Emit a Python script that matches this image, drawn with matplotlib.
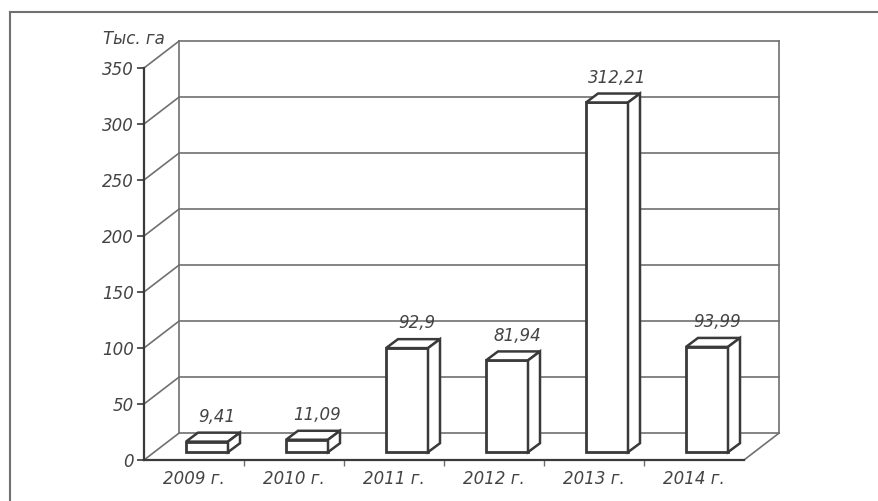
import matplotlib
matplotlib.use("Agg")
import matplotlib.pyplot as plt
from matplotlib.lines import Line2D

# Data
years = ["2009 г.", "2010 г.", "2011 г.", "2012 г.", "2013 г.", "2014 г."]
values = [9.41, 11.09, 92.9, 81.94, 312.21, 93.99]
yticks = [0, 50, 100, 150, 200, 250, 300, 350]
unit_label = "Тыс. га"

# Pseudo-3D geometry (data units)
wall_dx, wall_dy = 0.35, 24    # offset of back wall
bar_left, bar_w = 0.42, 0.42   # front face position inside category
bar_bottom = 7                 # front face lifted off the floor edge
depth_dx, depth_dy = 0.12, 8   # bar depth

line_col = "#3a3a3a"
grid_col = "#707070"
text_col = "#444444"
font = dict(family="DejaVu Sans", style="italic", color=text_col, fontsize=12)

W, H = 879, 501
fig = plt.figure(figsize=(W / 100, H / 100), dpi=100)
ax = fig.add_axes([144 / W, (H - 460) / H, 600 / W, 392 / H])
n = len(years)
ax.set_xlim(0, n)
ax.set_ylim(0, 350)
for s in ["top", "right"]:
    ax.spines[s].set_visible(False)
for s in ["left", "bottom"]:
    ax.spines[s].set_color(line_col)
    ax.spines[s].set_linewidth(1.6)

# y axis
ax.set_yticks(yticks)
ax.set_yticklabels([str(t) for t in yticks], **font)
ax.tick_params(axis="y", direction="out", length=5, width=1.2, color=line_col, pad=2)

# x axis: labels at centers, tick marks at boundaries
ax.set_xticks([i + 0.5 for i in range(n)])
ax.set_xticklabels(years, **font)
ax.set_xticks(range(1, n), minor=True)
ax.tick_params(axis="x", which="major", length=0, pad=7)
ax.tick_params(axis="x", which="minor", direction="out", length=4, width=1.0, color=grid_col)

# back wall, side wall diagonals, floor
gkw = dict(color=grid_col, lw=1.2, clip_on=False, zorder=1)
for t in yticks:
    ax.plot([wall_dx, n + wall_dx], [t + wall_dy, t + wall_dy], **gkw)
    ax.plot([0, wall_dx], [t, t + wall_dy], **gkw)
ax.plot([wall_dx, wall_dx], [wall_dy, 350 + wall_dy], **gkw)
ax.plot([n + wall_dx, n + wall_dx], [wall_dy, 350 + wall_dy], **gkw)
ax.plot([n, n + wall_dx], [0, wall_dy], **gkw)

# bars: front face via ax.bar, top and side via polygons
lefts = [i + bar_left for i in range(n)]
ax.bar(lefts, values, width=bar_w, bottom=bar_bottom, align="edge",
       facecolor="white", edgecolor=line_col, linewidth=2, zorder=3, clip_on=False)
for x0, v in zip(lefts, values):
    top = bar_bottom + v
    x1 = x0 + bar_w
    ax.fill([x0, x1, x1 + depth_dx, x0 + depth_dx],
            [top, top, top + depth_dy, top + depth_dy],
            facecolor="white", edgecolor=line_col, lw=1.8, zorder=3, clip_on=False)
    ax.fill([x1, x1 + depth_dx, x1 + depth_dx, x1],
            [bar_bottom, bar_bottom + depth_dy, top + depth_dy, top],
            facecolor="white", edgecolor=line_col, lw=1.8, zorder=3, clip_on=False)
    ax.text(x0 + bar_w / 2 + 0.1, top + depth_dy + 6, str(v).replace(".", ","),
            ha="center", va="bottom", zorder=4, **font)

ax.text(-0.1, 350 + wall_dy + 2, unit_label, ha="center", va="center", **font)

# outer frame of the scanned figure
fcol = "#707070"
fig.add_artist(Line2D([10 / W, 10 / W], [0, 1 - 12 / H], color=fcol, lw=1.5))
fig.add_artist(Line2D([10 / W, 1], [1 - 12 / H, 1 - 12 / H], color=fcol, lw=1.5))

fig.savefig("out.png", dpi=100, facecolor="white")
